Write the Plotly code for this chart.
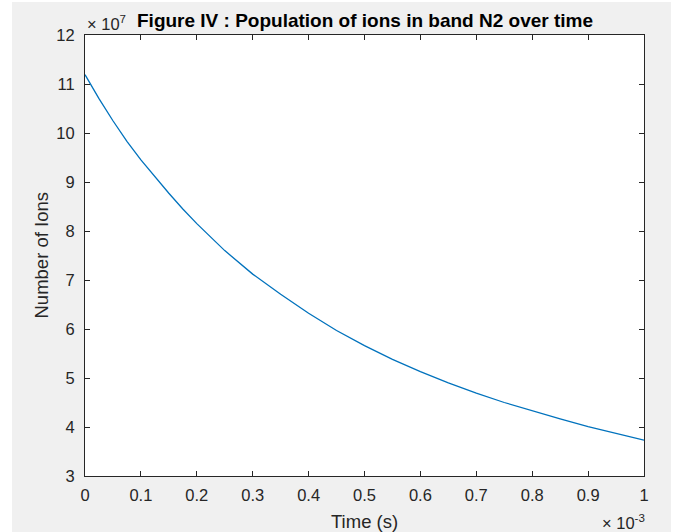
import plotly.graph_objects as go

# Data (time in ms, population in units of 1e7 ions)
time_ms = [0.0, 0.025, 0.05, 0.075, 0.1, 0.125, 0.15, 0.175, 0.2, 0.25, 0.3,
           0.35, 0.4, 0.45, 0.5, 0.55, 0.6, 0.65, 0.7, 0.75, 0.8, 0.85, 0.9, 0.95, 1.0]
ions_e7 = [11.19, 10.70, 10.25, 9.83, 9.45, 9.10, 8.77, 8.45, 8.15, 7.60, 7.12,
           6.71, 6.32, 5.97, 5.66, 5.38, 5.13, 4.90, 4.69, 4.50, 4.325, 4.165, 4.01, 3.865, 3.73]

time_s = [t * 1e-3 for t in time_ms]
ions = [v * 1e7 for v in ions_e7]

x_tick_vals = [i * 1e-4 for i in range(11)]
x_tick_text = ["0", "0.1", "0.2", "0.3", "0.4", "0.5", "0.6", "0.7", "0.8", "0.9", "1"]
y_tick_vals = [v * 1e7 for v in range(3, 13)]
y_tick_text = [str(v) for v in range(3, 13)]

FONT = "Liberation Sans, Arial, Helvetica, sans-serif"
NARROW = "Liberation Sans Narrow, Liberation Sans, Arial, sans-serif"
AX = "#262626"

fig = go.Figure()
fig.add_trace(go.Scatter(x=time_s, y=ions, mode="lines",
                         line=dict(color="#0072BD", width=1.3),
                         hoverinfo="skip", showlegend=False))

# gray figure background and white axes background
fig.add_shape(type="rect", xref="paper", yref="paper", x0=-0.1306, x1=1.0483, y0=-0.13, y1=1.0748,
              fillcolor="#f0f0f0", line_width=0, layer="below")
fig.add_shape(type="rect", xref="paper", yref="paper", x0=0, x1=1, y0=0, y1=1,
              fillcolor="white", line_width=0, layer="below")

axis_common = dict(showgrid=False, zeroline=False, showline=True, linecolor=AX, linewidth=1,
                   mirror="ticks", ticks="inside", ticklen=5, tickcolor=AX, tickwidth=1,
                   tickfont=dict(family=NARROW, size=16.5, color=AX))

fig.update_xaxes(range=[0, 1e-3], tickmode="array", tickvals=x_tick_vals, ticktext=x_tick_text,
                 ticklabelstandoff=4, **axis_common)
fig.update_yaxes(range=[3e7, 12e7], tickmode="array", tickvals=y_tick_vals, ticktext=y_tick_text,
                 ticklabelstandoff=6, **axis_common)

fig.add_annotation(text="<b>Figure IV : Population of ions in band N2 over time</b>",
                   xref="paper", yref="paper", x=0.5, y=1.0, yshift=2, xanchor="center", yanchor="bottom",
                   showarrow=False, font=dict(family=FONT, size=19, color="black"))
fig.add_annotation(text="× 10<sup>7</sup>", xref="paper", yref="paper", x=0, y=1.0, yshift=0,
                   xanchor="left", yanchor="bottom", showarrow=False,
                   font=dict(family=NARROW, size=16.5, color=AX))
fig.add_annotation(text="× 10<sup>-3</sup>", xref="paper", yref="paper", x=1.0, y=0, xshift=3, yshift=-34,
                   xanchor="right", yanchor="top", showarrow=False,
                   font=dict(family=NARROW, size=16.5, color=AX))
fig.add_annotation(text="Time (s)", xref="paper", yref="paper", x=0.5, y=0, yshift=-33,
                   xanchor="center", yanchor="top", showarrow=False,
                   font=dict(family=FONT, size=18.5, color=AX))
fig.add_annotation(text="Number of Ions", xref="paper", yref="paper", x=0, y=0.5, xshift=-44,
                   xanchor="center", yanchor="middle", textangle=-90, showarrow=False,
                   font=dict(family=FONT, size=18.5, color=AX))

fig.update_layout(width=694, height=532, margin=dict(l=85, r=50, t=35, b=56),
                  paper_bgcolor="white", plot_bgcolor="white")

fig.write_html("out.html")
